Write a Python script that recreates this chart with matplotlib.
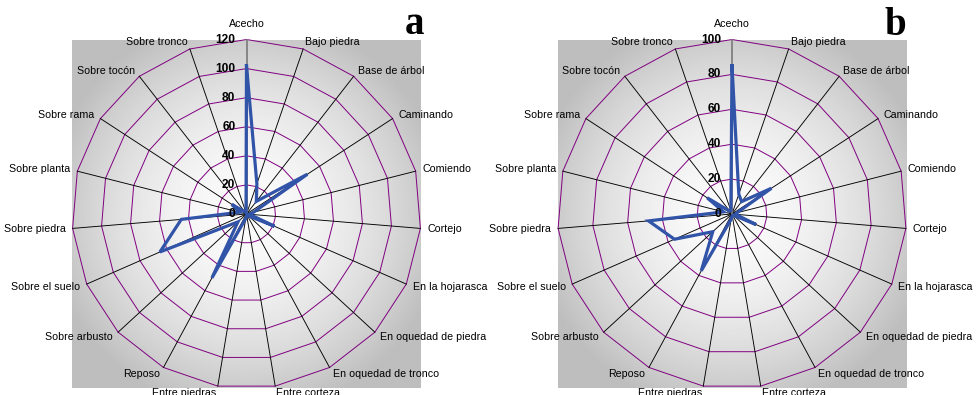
import numpy as np
import matplotlib.pyplot as plt

plt.rcParams['font.family'] = ['Liberation Sans', 'DejaVu Sans']

categories = [
    "Acecho", "Bajo piedra", "Base de árbol", "Caminando", "Comiendo",
    "Cortejo", "En la hojarasca", "En oquedad de piedra", "En oquedad de tronco",
    "Entre corteza", "Entre piedras", "Reposo", "Sobre arbusto",
    "Sobre el suelo", "Sobre piedra", "Sobre planta", "Sobre rama",
    "Sobre tocón", "Sobre tronco",
]
values_a = [102, 22, 11, 50, 5, 2, 21, 2, 1, 1, 3, 50, 8, 65, 45, 5, 12, 2, 1]
values_b = [85, 12, 9, 27, 3, 2, 15, 1, 1, 1, 3, 37, 15, 36, 48, 5, 17, 2, 2]
rmax_a = 120
rmax_b = 100
step = 20

FIG_W, FIG_H = 979, 395
theta = np.linspace(0, 2 * np.pi, len(categories), endpoint=False)


def px_box(cx, cy, r):
    # figure-fraction box for a square of half-size r centred at (cx, cy) in pixels
    return [(cx - r) / FIG_W, (FIG_H - cy - r) / FIG_H, 2 * r / FIG_W, 2 * r / FIG_H]


def draw_background(fig, box):
    # white centre fading to grey towards the plot-area corners
    bg = fig.add_axes(box, zorder=0)
    yy, xx = np.mgrid[-1:1:400j, -1:1:400j]
    r = np.hypot(xx, yy)
    shade = 0.985 - 0.24 * np.clip(r / 1.15, 0, 1) ** 1.8
    bg.imshow(shade, cmap='gray', vmin=0, vmax=1, extent=(-1, 1, -1, 1),
              interpolation='bilinear', aspect='auto')
    bg.set_axis_off()


def draw_radar(fig, box, values, rmax):
    ax = fig.add_axes(box, projection='polar', zorder=1)
    ax.set_facecolor('none')
    ax.set_theta_zero_location('N')
    ax.set_theta_direction(-1)
    ax.set_ylim(0, rmax)
    ax.grid(False)
    ax.spines['polar'].set_visible(False)
    ax.set_xticks([])
    ax.set_yticks([])

    closed = np.append(theta, theta[0])
    # polygon rings
    for level in range(step, rmax + 1, step):
        ax.plot(closed, [level] * len(closed), color='#800080', lw=0.7, clip_on=False)
    # spokes, the first one doubles as the value axis
    for i, t in enumerate(theta):
        if i == 0:
            ax.plot([t, t], [0, rmax], color='#808080', lw=1.3, clip_on=False, zorder=3)
        else:
            ax.plot([t, t], [0, rmax], color='black', lw=0.65, clip_on=False)

    ax.plot(closed, np.append(values, values[0]), color='#3153a8', lw=2.3,
            solid_joinstyle='miter', clip_on=False, zorder=4)

    for level in range(0, rmax + 1, step):
        ax.annotate(str(level), xy=(0, level), xytext=(-11, 0),
                    textcoords='offset pixels', ha='right', va='center',
                    fontsize=8.6, fontweight='bold', zorder=5)

    for t, name in zip(theta, categories):
        s, c = np.sin(t), np.cos(t)
        if abs(s) < 0.05:
            ha, va, off = 'center', 'bottom', (0, 11)
        else:
            ha = 'left' if s > 0 else 'right'
            va = 'center'
            off = (7 * s, 7 * c)
        ax.annotate(name, xy=(t, rmax), xytext=off, textcoords='offset pixels',
                    ha=ha, va=va, fontsize=7.7, annotation_clip=False)
    return ax


fig = plt.figure(figsize=(FIG_W / 100, FIG_H / 100), dpi=100)

box_a = px_box(246.5, 214, 174.5)
box_b = px_box(732, 214, 174.5)

draw_background(fig, box_a)
draw_background(fig, box_b)
draw_radar(fig, box_a, values_a, rmax_a)
draw_radar(fig, box_b, values_b, rmax_b)

fig.text(414 / FIG_W, 1 - 34 / FIG_H, 'a', fontsize=28, fontweight='bold',
         family='Liberation Serif', ha='center', va='baseline')
fig.text(895 / FIG_W, 1 - 35 / FIG_H, 'b', fontsize=28, fontweight='bold',
         family='Liberation Serif', ha='center', va='baseline')

fig.savefig('out.png', dpi=100)
